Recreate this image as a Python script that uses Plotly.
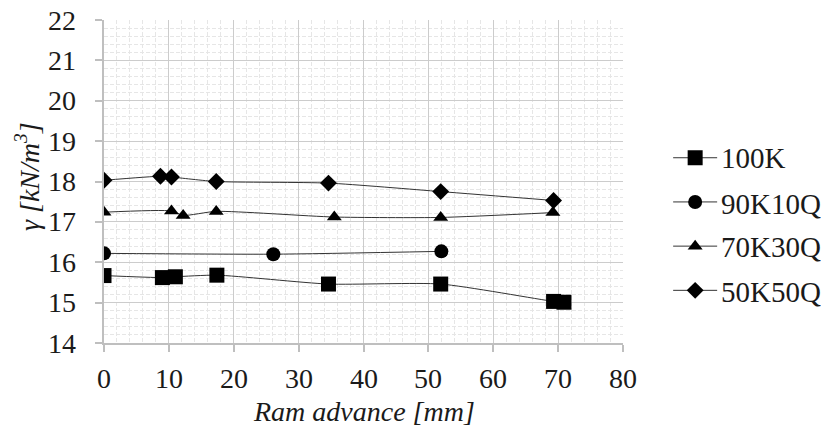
import plotly.graph_objects as go

x_100K = [0, 9.0, 11.0, 17.4, 34.6, 51.9, 69.3, 70.9]
y_100K = [15.67, 15.62, 15.64, 15.68, 15.46, 15.46, 15.03, 15.01]

x_90K10Q = [0, 26.1, 52.0]
y_90K10Q = [16.22, 16.20, 16.27]

x_70K30Q = [0, 10.4, 12.2, 17.3, 35.5, 51.9, 69.2]
y_70K30Q = [17.24, 17.27, 17.16, 17.26, 17.12, 17.11, 17.23]

x_50K50Q = [0, 8.7, 10.4, 17.3, 34.6, 51.9, 69.3]
y_50K50Q = [18.03, 18.13, 18.11, 18.00, 17.96, 17.75, 17.53]

x_ticks = [0, 10, 20, 30, 40, 50, 60, 70, 80]
y_ticks = [14, 15, 16, 17, 18, 19, 20, 21, 22]

series_names = ["100K", "90K10Q", "70K30Q", "50K50Q"]
series_x = [x_100K, x_90K10Q, x_70K30Q, x_50K50Q]
series_y = [y_100K, y_90K10Q, y_70K30Q, y_50K50Q]
symbols = ["square", "circle", "triangle-up", "diamond"]
sizes = [15, 14, 13, 13]

SERIF = "Liberation Serif"
TXT = "#1a1a1a"

fig = go.Figure()
for name, xs, ys, sym, size in zip(series_names, series_x, series_y, symbols, sizes):
    fig.add_trace(go.Scatter(
        x=xs, y=ys, name=" ", mode="lines+markers", legendgroup=name,
        line=dict(color="#333333", width=1, shape="spline", smoothing=0.6),
        marker=dict(symbol=sym, size=size, color="black"),
    ))

axis_common = dict(
    showline=True, linecolor="#bfbfbf", linewidth=1.5,
    ticks="outside", tickcolor="#bfbfbf", ticklen=7, tickwidth=1.5,
    gridcolor="#cccccc", gridwidth=1, zeroline=False, automargin=False,
    showticklabels=False, tickmode="array",
)
fig.update_xaxes(
    range=[0, 80], tickvals=x_ticks,
    minor=dict(dtick=2, showgrid=True, gridcolor="#e6e6e6", griddash="4px,2px", gridwidth=1),
    **axis_common,
)
fig.update_yaxes(
    range=[14, 22], tickvals=y_ticks,
    minor=dict(dtick=0.2, showgrid=True, gridcolor="#e6e6e6", griddash="4px,2px", gridwidth=1),
    **axis_common,
)

# tick labels (serif) placed through the axes' own scales
for v in x_ticks:
    fig.add_annotation(x=v, xref="x", y=0, yref="paper", text=str(v), showarrow=False,
                       xanchor="center", yanchor="middle", yshift=-35,
                       font=dict(family=SERIF, size=28, color=TXT))
for v in y_ticks:
    fig.add_annotation(x=0, xref="paper", y=v, yref="y", text=str(v), showarrow=False,
                       xanchor="right", yanchor="middle", xshift=-26,
                       font=dict(family=SERIF, size=28, color=TXT))

# axis titles
fig.add_annotation(x=0.5, xref="paper", y=-0.2136, yref="paper", text="<i>Ram advance [mm]</i>",
                   showarrow=False, xanchor="center", yanchor="middle",
                   font=dict(family=SERIF, size=28, color=TXT))
fig.add_annotation(x=-0.1464, xref="paper", y=0.514, yref="paper", text="<i>γ [kN/m<sup>3</sup>]</i>",
                   showarrow=False, xanchor="center", yanchor="middle", textangle=-90,
                   font=dict(family=SERIF, size=28, color=TXT))

# legend labels (serif), beside the legend symbols
legend_text_y = [0.573, 0.430, 0.297, 0.158]
for name, ly in zip(series_names, legend_text_y):
    fig.add_annotation(x=1.185, xref="paper", y=ly, yref="paper", text=name, showarrow=False,
                       xanchor="left", yanchor="middle",
                       font=dict(family=SERIF, size=29, color=TXT))

fig.update_layout(
    width=821, height=429,
    margin=dict(l=96, r=206, t=12, b=94),
    plot_bgcolor="white", paper_bgcolor="white",
    legend=dict(
        x=1.087, y=0.368, xanchor="left", yanchor="middle",
        font=dict(family=SERIF, size=24, color=TXT),
        tracegroupgap=10, itemwidth=44,
    ),
)

fig.write_html("out.html")
